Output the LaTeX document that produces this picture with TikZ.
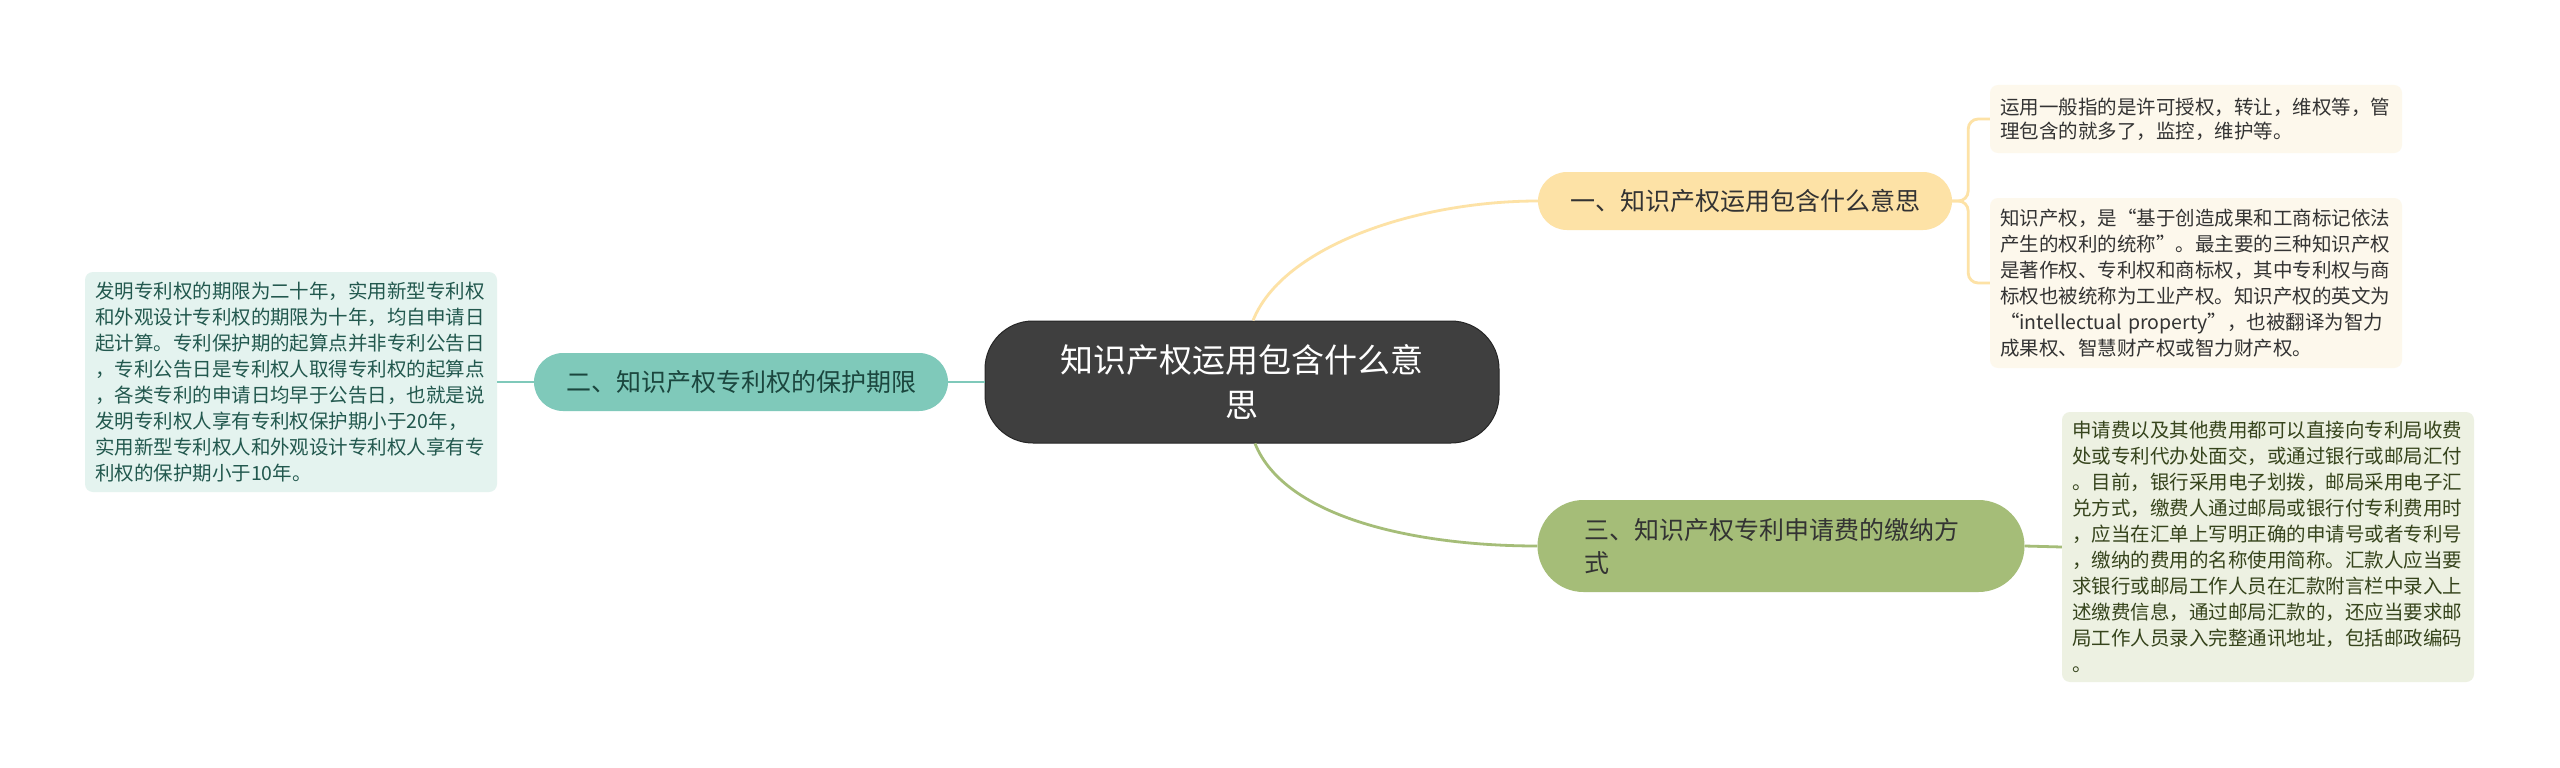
\documentclass[tikz,border=0pt]{standalone}
\usepackage{fontspec}
\setmainfont{Noto Sans CJK SC}

\definecolor{rootfill}{HTML}{3F3F3F}
\definecolor{rootdraw}{HTML}{262626}
\definecolor{yellowfill}{HTML}{FDE2A6}
\definecolor{tealfill}{HTML}{7FC9BA}
\definecolor{olivefill}{HTML}{A5BD78}
\definecolor{yellowleaf}{HTML}{FDF8EC}
\definecolor{tealleaf}{HTML}{E4F3EF}
\definecolor{oliveleaf}{HTML}{EDF1E2}
\definecolor{tealtext}{HTML}{22584E}
\definecolor{olivetext}{HTML}{36441C}
\definecolor{darktext}{HTML}{333333}

\tikzset{
  rootbox/.style={fill=rootfill, draw=rootdraw, line width=1pt, rounded corners=48pt,
    minimum width=514pt, minimum height=122pt, align=center, text=white,
    font=\fontsize{33}{45}\selectfont},
  topicbox/.style={rounded corners=29pt, minimum width=414pt, minimum height=58pt,
    inner sep=0pt, font=\fontsize{25}{33}\selectfont},
  leafbox/.style={rounded corners=8pt, text width=392pt, inner xsep=10pt, inner ysep=8pt,
    align=left, font=\fontsize{19.5}{26}\selectfont},
  yellowline/.style={draw=yellowfill, line width=2.8pt},
  tealline/.style={draw=tealfill, line width=2.8pt},
  oliveline/.style={draw=olivefill, line width=2.8pt}
}

\begin{document}
\begin{tikzpicture}[x=1pt, y=-1pt]
    \useasboundingbox[fill=white] (0,0) rectangle (2560,768);

    \node[rootbox] (root) at (1242,382) {知识产权运用包含什么意\\思};

    \node[topicbox, fill=yellowfill, text=darktext] (one) at (1745,201) {一、知识产权运用包含什么意思};
    \node[topicbox, fill=tealfill, text=tealtext!80!black] (two) at (741,382) {二、知识产权专利权的保护期限};
    \node[topicbox, fill=olivefill, text=darktext, rounded corners=46pt, minimum width=487pt,
        minimum height=92pt, text width=393pt, inner xsep=47pt, align=left] (three) at (1781,546)
        {三、知识产权专利申请费的缴纳方\\式};

    \node[leafbox, fill=yellowleaf, text=darktext, minimum height=68pt,
        font=\fontsize{19.5}{24}\selectfont] (oneA) at (2196,119)
        {运用一般指的是许可授权，转让，维权等，管\\理包含的就多了，监控，维护等。};
    \node[leafbox, fill=yellowleaf, text=darktext, minimum height=170pt] (oneB) at (2196,283)
        {知识产权，是“基于创造成果和工商标记依法\\产生的权利的统称”。最主要的三种知识产权\\是著作权、专利权和商标权，其中专利权与商\\标权也被统称为工业产权。知识产权的英文为\\“intellectual property”，也被翻译为智力\\成果权、智慧财产权或智力财产权。};
    \node[leafbox, fill=tealleaf, text=tealtext, minimum height=220pt] (twoA) at (291,382)
        {发明专利权的期限为二十年，实用新型专利权\\和外观设计专利权的期限为十年，均自申请日\\起计算。专利保护期的起算点并非专利公告日\\，专利公告日是专利权人取得专利权的起算点\\，各类专利的申请日均早于公告日，也就是说\\发明专利权人享有专利权保护期小于20年，\\实用新型专利权人和外观设计专利权人享有专\\利权的保护期小于10年。};
    \node[leafbox, fill=oliveleaf, text=olivetext, minimum height=270pt] (threeA) at (2268,547)
        {申请费以及其他费用都可以直接向专利局收费\\处或专利代办处面交，或通过银行或邮局汇付\\。目前，银行采用电子划拨，邮局采用电子汇\\兑方式，缴费人通过邮局或银行付专利费用时\\，应当在汇单上写明正确的申请号或者专利号\\，缴纳的费用的名称使用简称。汇款人应当要\\求银行或邮局工作人员在汇款附言栏中录入上\\述缴费信息，通过邮局汇款的，还应当要求邮\\局工作人员录入完整通讯地址，包括邮政编码\\。};

    \draw[yellowline] ([xshift=11pt]root.north) .. controls +(30,-75) and +(-120,0) .. (one.west);
    \draw[oliveline] ([xshift=13pt]root.south) .. controls +(30,75) and +(-120,0) .. (three.west);
    \draw[tealline] (root.west) -- (two.east);
    \draw[tealline] (two.west) -- (twoA.east);
    \draw[oliveline] (three.east) -- (threeA.west);
    \draw[yellowline, rounded corners=10pt] (one.east) -- ++(16,0) |- (oneA.west);
    \draw[yellowline, rounded corners=10pt] (one.east) -- ++(16,0) |- (oneB.west);
\end{tikzpicture}
\end{document}
